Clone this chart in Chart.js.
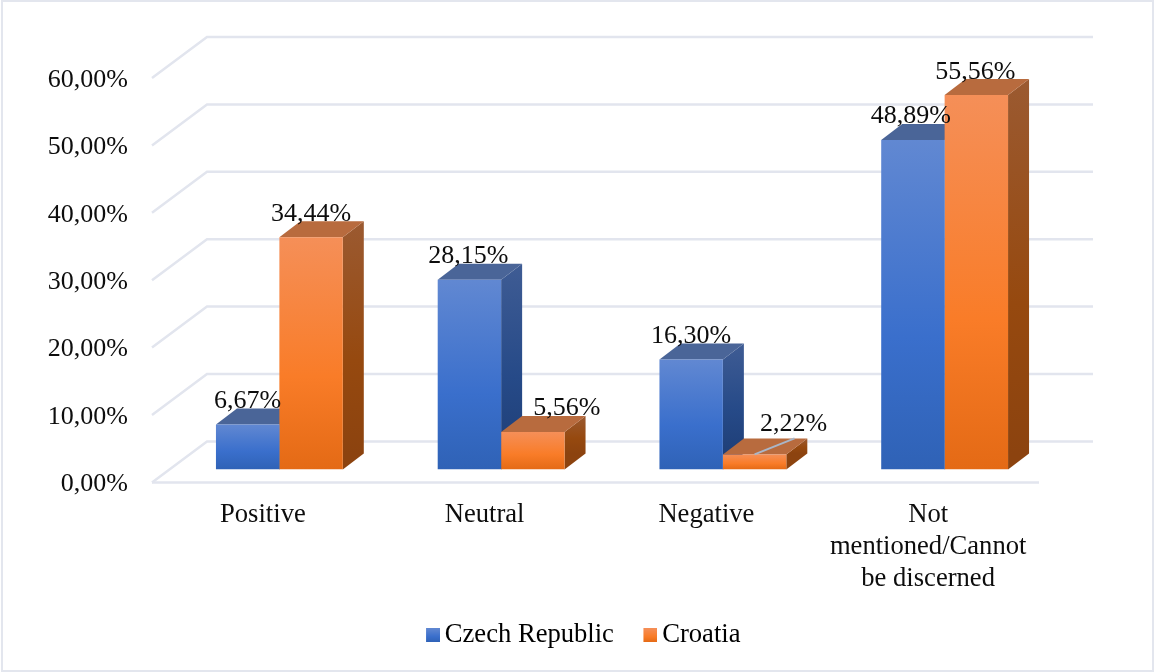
<!DOCTYPE html>
<html>
<head>
<meta charset="utf-8">
<style>
html,body{margin:0;padding:0;background:#fff;}
#wrap{position:relative;width:1155px;height:672px;overflow:hidden;}
#wrap:after{content:"";position:absolute;left:1px;top:0;right:1px;bottom:0;border:2px solid #e3e6ee;pointer-events:none;}
</style>
</head>
<body>
<div id="wrap"><canvas id="c" width="1155" height="672"></canvas></div>
<script src="https://cdn.jsdelivr.net/npm/chart.js@4/dist/chart.umd.min.js"></script>
<script>
const categories = [["Positive"],["Neutral"],["Negative"],["Not","mentioned/Cannot","be discerned"]];
const czechName = "Czech Republic";
const croatiaName = "Croatia";
const czech = [6.67, 28.15, 16.30, 48.89];
const croatia = [34.44, 5.56, 2.22, 55.56];
const yTicks = [0, 10, 20, 30, 40, 50, 60];

const FONT = '"Liberation Serif","Times New Roman",serif';
const FS = 26;
const FS_CAT = 26.6;
const TEXT = '#0d0d0d';
const GRID = '#e2e5ee';
// depth geometry
const WALL = {dx: 55, dy: -41};
const BAR_SHIFT = {dx: 16.5, dy: -13};
const BAR_DEPTH = {dx: 21, dy: -16};
const BLUE = {front:['#6188d2','#3a6fcc','#2f62b6'], top:'#4a6598', side:['#3f5c94','#264a88','#1f3f78']};
const ORANGE = {front:['#f58f58','#f97c28','#e46a15'], top:'#b86b3e', side:['#9b5a31','#96490f','#8c430f']};
const PAL = [BLUE, ORANGE];
// label offset relative to bar's front top centre (dx, dy of text centre)
const LABEL_OFF = [
  [[0,-23],[-1,-23],[0,-23],[-2,-24]],
  [[0,-23],[34,-24],[39,-30],[-1,-23]]
];

function vgrad(ctx, top, bottom, stops){
  const g = ctx.createLinearGradient(0, top, 0, bottom);
  g.addColorStop(0, stops[0]);
  g.addColorStop(0.6, stops[1]);
  g.addColorStop(1, stops[2]);
  return g;
}
function swatch(p){
  const s = document.createElement('canvas');
  s.width = 18; s.height = 14;
  const x = s.getContext('2d');
  x.fillStyle = vgrad(x, 0, 14, p.front);
  x.fillRect(4,0,14,14);
  return s;
}
function frontFill(i){
  return function(c){
    if (c.type !== 'data' || !c.chart.chartArea) return PAL[i].front[1];
    const y = c.chart.scales.y;
    const top = y.getPixelForValue(c.parsed.y);
    return vgrad(c.chart.ctx, top, y.getPixelForValue(0), PAL[i].front);
  };
}

const depthPlugin = {
  id: 'depth',
  afterLayout(chart){
    const L = chart.legend;
    const shift = 585.5 - (L.left + L.right) / 2;
    L.left += shift; L.right += shift;
    L.top = 588; L.bottom = L.top + L.height;
    // tick labels sit a little lower than the gridline's exact middle
    const s = chart.scales.y;
    if (!s._shifted) {
      const orig = s.drawLabels;
      s.drawLabels = function(area){
        this.ctx.save();
        this.ctx.translate(0, 2);
        orig.call(this, area);
        this.ctx.restore();
      };
      s._shifted = true;
    }
  },
  beforeDatasetsDraw(chart){
    const ctx = chart.ctx, y = chart.scales.y, a = chart.chartArea;
    ctx.save();
    ctx.strokeStyle = GRID; ctx.lineWidth = 2.5;
    // wall grid
    yTicks.forEach(v => {
      const p = y.getPixelForValue(v);
      ctx.beginPath();
      ctx.moveTo(a.left, p);
      ctx.lineTo(a.left + WALL.dx, p + WALL.dy);
      ctx.lineTo(a.right + WALL.dx - 1, p + WALL.dy);
      ctx.stroke();
    });
    // floor front edge
    const p0 = y.getPixelForValue(0);
    ctx.beginPath(); ctx.moveTo(a.left, p0); ctx.lineTo(a.right, p0); ctx.stroke();
    // bar sides and tops
    ctx.translate(BAR_SHIFT.dx, BAR_SHIFT.dy);
    const d = BAR_DEPTH;
    const base = p0;
    chart.data.datasets.forEach((ds, i) => {
      const pal = PAL[i];
      chart.getDatasetMeta(i).data.forEach(b => {
        const l = b.x - b.width/2, r = b.x + b.width/2, t = b.y;
        ctx.fillStyle = vgrad(ctx, t + d.dy, base + d.dy, pal.side);
        ctx.beginPath();
        ctx.moveTo(r, t); ctx.lineTo(r + d.dx, t + d.dy);
        ctx.lineTo(r + d.dx, base + d.dy); ctx.lineTo(r, base);
        ctx.closePath(); ctx.fill();
        ctx.fillStyle = pal.top;
        ctx.beginPath();
        ctx.moveTo(l, t); ctx.lineTo(l + d.dx, t + d.dy);
        ctx.lineTo(r + d.dx, t + d.dy); ctx.lineTo(r, t);
        ctx.closePath(); ctx.fill();
      });
    });
    ctx.restore();
    ctx.save();
    ctx.translate(BAR_SHIFT.dx, BAR_SHIFT.dy);
  },
  afterDatasetsDraw(chart){
    const ctx = chart.ctx;
    ctx.restore();
    ctx.save();
    ctx.translate(BAR_SHIFT.dx, BAR_SHIFT.dy);
    // leader line of the small Croatia value
    const small = chart.getDatasetMeta(1).data[2];
    ctx.strokeStyle = '#a9b6c8'; ctx.lineWidth = 2;
    ctx.beginPath();
    ctx.moveTo(small.x, small.y);
    ctx.lineTo(small.x + 40, small.y - 16);
    ctx.stroke();
    // value labels
    ctx.font = FS + 'px ' + FONT;
    ctx.fillStyle = TEXT;
    ctx.textAlign = 'center';
    ctx.textBaseline = 'middle';
    chart.data.datasets.forEach((ds, i) => {
      chart.getDatasetMeta(i).data.forEach((b, j) => {
        const o = LABEL_OFF[i][j];
        ctx.fillText(ds.data[j].toFixed(2).replace('.', ',') + '%', b.x + o[0], b.y + o[1]);
      });
    });
    ctx.restore();
  }
};

new Chart(document.getElementById('c'), {
  type: 'bar',
  data: {
    labels: categories,
    datasets: [
      {label: czechName, data: czech, backgroundColor: frontFill(0), borderWidth: 0},
      {label: croatiaName, data: croatia, backgroundColor: frontFill(1), borderWidth: 0}
    ]
  },
  plugins: [depthPlugin],
  options: {
    responsive: false,
    animation: false,
    devicePixelRatio: 1,
    layout: {padding: {left: 0, right: 116, top: 78, bottom: 0}},
    datasets: {bar: {categoryPercentage: 0.572, barPercentage: 1}},
    scales: {
      x: {
        grid: {display: false},
        border: {display: false},
        ticks: {color: TEXT, font: {family: FONT, size: FS_CAT}, padding: 9, maxRotation: 0, autoSkip: false},
        afterFit(s){ s.height = 119; }
      },
      y: {
        min: 0, max: 60,
        grid: {display: false, drawTicks: false},
        border: {display: false},
        afterBuildTicks(s){ s.ticks = yTicks.map(v => ({value: v})); },
        ticks: {
          color: TEXT, font: {family: FONT, size: FS}, padding: 24,
          callback: v => v.toFixed(2).replace('.', ',') + '%'
        },
        afterFit(s){ s.width = 152; }
      }
    },
    plugins: {
      tooltip: {enabled: false},
      legend: {
        position: 'bottom',
        labels: {
          color: TEXT,
          font: {family: FONT, size: FS_CAT},
          padding: 34,
          boxWidth: 1,
          pointStyleWidth: 1,
          usePointStyle: true,
          generateLabels(chart){
            return chart.data.datasets.map((ds, i) => ({
              text: ds.label, datasetIndex: i, hidden: false, lineWidth: 0,
              fillStyle: PAL[i].front[1], strokeStyle: PAL[i].front[1],
              pointStyle: swatch(PAL[i])
            }));
          }
        }
      }
    }
  }
});
</script>
</body>
</html>
